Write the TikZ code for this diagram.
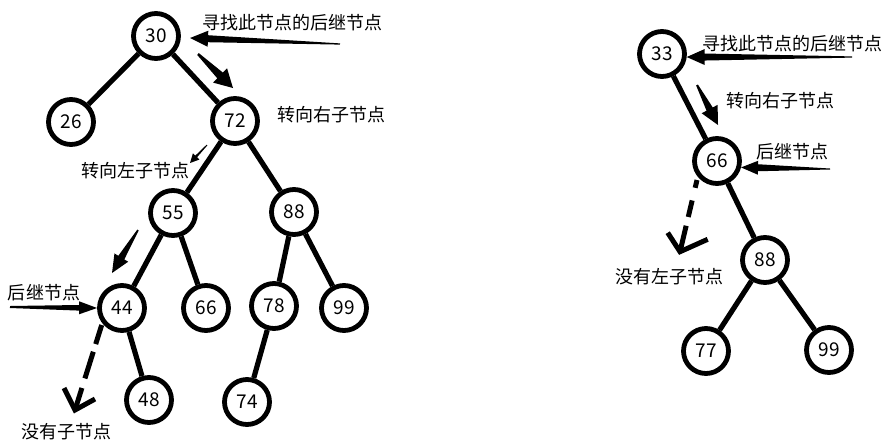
\documentclass[tikz,border=0pt]{standalone}
\usepackage{fontspec}
\setmainfont{Noto Sans CJK SC}
\usetikzlibrary{calc}
\newcommand\taperarrow[6]{%
  \coordinate (tb) at ($(#2)!#3!(#1)$);
  \fill ($(#1)!#6!90:(#2)$) -- ($(tb)!#5!-90:(#1)$) -- ($(tb)!#4!-90:(#1)$) -- (#2)
     -- ($(tb)!#4!90:(#1)$) -- ($(tb)!#5!90:(#1)$) -- ($(#1)!#6!-90:(#2)$) -- cycle;}
\begin{document}
\begin{tikzpicture}[x=1pt,y=-1pt,
  circ/.style={circle, draw, line width=4.8pt, minimum size=45pt, inner sep=0pt,
    font=\fontsize{19}{21}\selectfont},
  treeedge/.style={line width=5.2pt},
  lbl/.style={font=\fontsize{18}{20}\selectfont, inner sep=0pt},
  dashline/.style={line width=5pt},
  vhead/.style={line width=5pt}]
\useasboundingbox (0,0) rectangle (888,445);
% left tree
\node[circ] (n30) at (156,36) {30};
\node[circ] (n26) at (71,122) {26};
\node[circ] (n72) at (235,121) {72};
\node[circ] (n55) at (173,213) {55};
\node[circ] (n88) at (294,212) {88};
\node[circ] (n44) at (122,308) {44};
\node[circ] (n66) at (206,308) {66};
\node[circ] (n78) at (274,306) {78};
\node[circ] (n99) at (344,308) {99};
\node[circ] (n48) at (149,400) {48};
\node[circ] (n74) at (247,402) {74};
\draw[treeedge] (n30) -- (n26);
\draw[treeedge] (n30) -- (n72);
\draw[treeedge] (n72) -- (n55);
\draw[treeedge] (n72) -- (n88);
\draw[treeedge] (n55) -- (n44);
\draw[treeedge] (n55) -- (n66);
\draw[treeedge] (n88) -- (n78);
\draw[treeedge] (n88) -- (n99);
\draw[treeedge] (n44) -- (n48);
\draw[treeedge] (n78) -- (n74);
% right tree
\node[circ] (m33) at (662,54) {33};
\node[circ] (m66) at (717,161) {66};
\node[circ] (m88) at (765,260) {88};
\node[circ] (m77) at (706,351) {77};
\node[circ] (m99) at (829,350) {99};
\draw[treeedge] (m33) -- (m66);
\draw[treeedge] (m66) -- (m88);
\draw[treeedge] (m88) -- (m77);
\draw[treeedge] (m88) -- (m99);
% labels
\node[lbl] (t1) at (292,23) {寻找此节点的后继节点};
\node[lbl] (t2) at (331,115) {转向右子节点};
\node[lbl] (t3) at (135,171) {转向左子节点};
\node[lbl] (t4) at (44,293) {后继节点};
\node[lbl] (t5) at (66,432) {没有子节点};
\node[lbl] (r1) at (792,44) {寻找此节点的后继节点};
\node[lbl] (r2) at (780,101) {转向右子节点};
\node[lbl] (r3) at (792,152) {后继节点};
\node[lbl] (r4) at (669,277) {没有左子节点};
% tapered arrows
\coordinate (a1t) at (340,44);  \coordinate (a1h) at (190,38);
\coordinate (a2t) at (198,54);  \coordinate (a2h) at (233,88);
\coordinate (a3t) at (207,145); \coordinate (a3h) at (190,163);
\coordinate (a4t) at (138,230); \coordinate (a4h) at (112,273);
\coordinate (a5t) at (10,307);
\coordinate (b1t) at (852,57);
\coordinate (b2t) at (697,85);  \coordinate (b2h) at (718,125);
\coordinate (b3t) at (830,169);
\taperarrow{a1t}{a1h}{18pt}{8pt}{3.5pt}{0.6pt}
\taperarrow{a2t}{a2h}{18pt}{10pt}{4pt}{1.2pt}
\taperarrow{a3t}{a3h}{9pt}{4.5pt}{1.2pt}{0.5pt}
\taperarrow{a4t}{a4h}{18pt}{8pt}{3.5pt}{0.8pt}
\taperarrow{a5t}{n44.west}{18pt}{6.5pt}{2.8pt}{1pt}
\taperarrow{b1t}{m33.-7}{18pt}{8pt}{3.5pt}{0.6pt}
\taperarrow{b2t}{b2h}{18pt}{9pt}{3.5pt}{1pt}
\taperarrow{b3t}{m66.-15}{17pt}{7pt}{3.5pt}{0.5pt}
% dashed arrows
\coordinate (d1s) at (101.7,325); \coordinate (d1h) at (75,410);
\coordinate (d1l) at (64,388);    \coordinate (d1r) at (95,399);
\draw[dashline, dash pattern=on 20pt off 8pt on 28pt off 10pt on 40pt off 10pt] (d1s) -- (d1h);
\draw[vhead] (d1l) -- (d1h) -- (d1r);
\coordinate (d2s) at (697,180); \coordinate (d2h) at (680,251.7);
\coordinate (d2l) at (667.7,232.7); \coordinate (d2r) at (707.7,239.3);
\draw[dashline, dash pattern=on 8pt off 13pt on 17pt off 9pt on 40pt off 10pt] (d2s) -- (d2h);
\draw[vhead] (d2l) -- (d2h) -- (d2r);
\end{tikzpicture}
\end{document}
